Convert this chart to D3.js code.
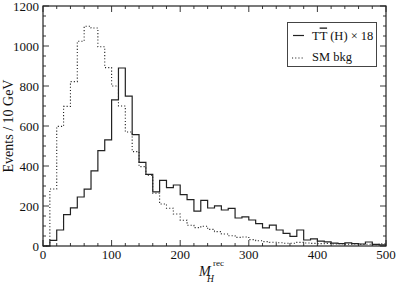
<!DOCTYPE html>
<html>
<head>
<meta charset="utf-8">
<script src="https://cdn.jsdelivr.net/npm/d3@7"></script>
<style>
  body { margin: 0; background: #fff; }
  svg text { font-family: "Liberation Serif", "DejaVu Serif", serif; fill: #111; }
</style>
</head>
<body>
<svg id="chart" width="398" height="284"></svg>
<script>
// bin edges: 0..500 GeV in 10 GeV steps
const binWidth = 10;
const binStarts = d3.range(0, 500, binWidth);

// ttH x 18 (solid)
const signal = [0, 28, 80, 157, 191, 245, 284, 376, 477, 531,
  731, 890, 749, 557, 418, 358, 271, 328, 292, 305,
  257, 232, 174, 228, 190, 201, 180, 188, 140, 146,
  130, 112, 91, 104, 80, 63, 48, 80, 30, 36,
  24, 21, 14, 12, 16, 12, 10, 20, 8, 6];

// SM background (dotted)
const background = [0, 285, 598, 698, 822, 1024, 1099, 1090, 996, 892,
  800, 700, 570, 472, 397, 354, 264, 210, 189, 160,
  129, 104, 92, 99, 83, 72, 60, 51, 43, 45,
  32, 26, 22, 19, 16, 14, 14, 18, 15, 13,
  12, 13, 10, 11, 9, 10, 8, 9, 7, 11];

const xTicks = [0, 100, 200, 300, 400, 500];
const yTicks = [0, 200, 400, 600, 800, 1000, 1200];

const margin = {left: 43, right: 12, top: 6, bottom: 38};
const width = 398, height = 284;

const svg = d3.select('#chart');

const x = d3.scaleLinear().domain([0, 500]).range([margin.left, width - margin.right]);
const y = d3.scaleLinear().domain([0, 1200]).range([height - margin.bottom, margin.top]);

// step outline of a histogram
const stepLine = d3.line()
  .x(d => x(d[0]))
  .y(d => y(d[1]))
  .curve(d3.curveStepAfter);

const toPoints = vals => {
  let pts = binStarts.map((b, i) => [b, vals[i]]);
  pts.push([500, vals[vals.length - 1]]);
  return pts;
};

svg.append('path')
  .attr('d', stepLine(toPoints(background)))
  .attr('fill', 'none')
  .attr('stroke', '#222')
  .attr('stroke-width', 1.1)
  .attr('stroke-dasharray', '1.1,2.1');

svg.append('path')
  .attr('d', stepLine(toPoints(signal)))
  .attr('fill', 'none')
  .attr('stroke', '#222')
  .attr('stroke-width', 1.2);

// inward ticks on all four sides
const tickG = svg.append('g').attr('stroke', '#222').attr('stroke-width', 0.9);
d3.range(0, 501, 20).forEach(v => {
  const len = v % 100 === 0 ? 6 : 3;
  tickG.append('line').attr('x1', x(v)).attr('x2', x(v)).attr('y1', y(0)).attr('y2', y(0) - len);
  tickG.append('line').attr('x1', x(v)).attr('x2', x(v)).attr('y1', y(1200)).attr('y2', y(1200) + len);
});
d3.range(0, 1201, 50).forEach(v => {
  const len = v % 200 === 0 ? 6 : 3;
  tickG.append('line').attr('x1', x(0)).attr('x2', x(0) + len).attr('y1', y(v)).attr('y2', y(v));
  tickG.append('line').attr('x1', x(500)).attr('x2', x(500) - len).attr('y1', y(v)).attr('y2', y(v));
});

// frame
svg.append('rect')
  .attr('x', x(0)).attr('y', y(1200))
  .attr('width', x(500) - x(0)).attr('height', y(0) - y(1200))
  .attr('fill', 'none').attr('stroke', '#222').attr('stroke-width', 1.2);

// tick labels
svg.selectAll('.xlab').data(xTicks).enter().append('text')
  .attr('x', d => x(d)).attr('y', y(0) + 13)
  .attr('text-anchor', 'middle').attr('font-size', 13)
  .text(d => d);

svg.selectAll('.ylab').data(yTicks).enter().append('text')
  .attr('x', x(0) - 4).attr('y', d => y(d) + 4.5)
  .attr('text-anchor', 'end').attr('font-size', 13)
  .text(d => d);

// axis titles
svg.append('text')
  .attr('transform', `translate(13,${(y(0) + y(1200)) / 2}) rotate(-90)`)
  .attr('text-anchor', 'middle').attr('font-size', 14)
  .text('Events / 10 GeV');

const xt = svg.append('text').attr('font-size', 14);
xt.append('tspan').attr('x', 199).attr('y', 276).attr('font-style', 'italic').text('M');
xt.append('tspan').attr('x', 207).attr('y', 282).attr('font-style', 'italic').attr('font-size', 9.5).text('H');
xt.append('tspan').attr('x', 213).attr('y', 266).attr('font-size', 9).text('rec');

// legend
const lg = svg.append('g');
lg.append('rect').attr('x', 287.5).attr('y', 22.5).attr('width', 89).attr('height', 44)
  .attr('fill', '#fff').attr('stroke', '#444').attr('stroke-width', 1);
lg.append('line').attr('x1', 293).attr('x2', 304).attr('y1', 35.5).attr('y2', 35.5)
  .attr('stroke', '#222').attr('stroke-width', 1.2);
lg.append('line').attr('x1', 292).attr('x2', 304).attr('y1', 58).attr('y2', 58)
  .attr('stroke', '#222').attr('stroke-width', 1.1).attr('stroke-dasharray', '1.1,2.1');
const t1 = lg.append('text').attr('x', 312).attr('y', 39.5).attr('font-size', 12.5);
t1.append('tspan').text('T');
t1.append('tspan').style('text-decoration', 'overline').text('T');
t1.append('tspan').text(' (H) × 18');
lg.append('text').attr('x', 312).attr('y', 60.5).attr('font-size', 12.5).text('SM bkg');
</script>
</body>
</html>
